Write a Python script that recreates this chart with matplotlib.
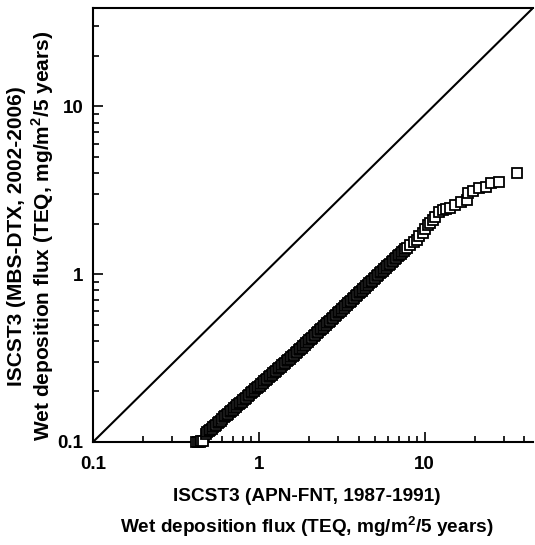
import numpy as np
import matplotlib.pyplot as plt
from matplotlib.ticker import FixedLocator, FixedFormatter, LogLocator, NullFormatter

plt.rcParams['font.family'] = 'Liberation Sans'
plt.rcParams['font.weight'] = 'bold'
plt.rcParams['mathtext.fontset'] = 'custom'
plt.rcParams['mathtext.rm'] = 'Liberation Sans:bold'
plt.rcParams['mathtext.bf'] = 'Liberation Sans:bold'

# APN-FNT 1987-1991 (x) vs MBS-DTX 2002-2006 (y)
# centre of the band
x_flux = [0.42, 0.43, 0.44, 0.45, 0.46,
          0.479, 0.500, 0.521, 0.543, 0.566, 0.590, 0.615, 0.641, 0.668, 0.697,
          0.726, 0.757, 0.789, 0.823, 0.858, 0.894, 0.932, 0.972, 1.013, 1.056,
          1.101, 1.148, 1.197, 1.248, 1.301, 1.356, 1.414, 1.474, 1.536, 1.602,
          1.670, 1.741, 1.815, 1.892, 1.972, 2.056, 2.143, 2.234, 2.329, 2.428,
          2.531, 2.639, 2.751, 2.868, 2.990, 3.117, 3.249, 3.387, 3.531, 3.681,
          3.838, 4.001, 4.171, 4.348, 4.533, 4.725, 4.926, 5.136, 5.354, 5.581,
          5.818, 6.066, 6.324, 6.592, 6.872, 7.164, 7.469, 7.786,
          8.2, 8.6, 8.95, 9.3, 9.73, 10.0, 10.43, 10.8, 11.17, 11.6, 12.14, 12.83,
          13.5, 14.15, 15.16, 16.47, 17.9, 18.3, 19.7, 21.4, 23.6, 25.0, 27.9, 36.0]
y_flux = [0.100, 0.100, 0.100, 0.101, 0.102,
          0.112, 0.116, 0.120, 0.125, 0.130, 0.134, 0.140, 0.145, 0.150, 0.156,
          0.162, 0.168, 0.174, 0.181, 0.188, 0.195, 0.202, 0.210, 0.217, 0.226,
          0.234, 0.243, 0.252, 0.261, 0.271, 0.281, 0.292, 0.303, 0.314, 0.326,
          0.338, 0.351, 0.365, 0.380, 0.395, 0.411, 0.427, 0.444, 0.462, 0.480,
          0.499, 0.519, 0.540, 0.561, 0.584, 0.607, 0.631, 0.656, 0.682, 0.710,
          0.738, 0.767, 0.798, 0.830, 0.863, 0.897, 0.933, 0.970, 1.009, 1.049,
          1.091, 1.134, 1.179, 1.226, 1.275, 1.326, 1.379, 1.434,
          1.50, 1.55, 1.60, 1.68, 1.76, 1.85, 1.97, 2.03, 2.11, 2.20, 2.35, 2.42,
          2.45, 2.49, 2.59, 2.70, 2.77, 3.06, 3.14, 3.27, 3.30, 3.51, 3.56, 4.03]

# more points read in the dense part of the band
x_dense = [0.489, 0.510, 0.532, 0.554, 0.578, 0.602, 0.628, 0.654, 0.682, 0.711,
           0.741, 0.773, 0.806, 0.840, 0.876, 0.913, 0.952, 0.992, 1.034, 1.078,
           1.124, 1.172, 1.222, 1.274, 1.328, 1.385, 1.444, 1.505, 1.569, 1.636,
           1.705, 1.778, 1.853, 1.932, 2.014, 2.099, 2.188, 2.281, 2.378, 2.479,
           2.585, 2.695, 2.809, 2.929, 3.053, 3.183, 3.318, 3.459, 3.606, 3.759,
           3.919, 4.086, 4.259, 4.440, 4.629, 4.825, 5.030, 5.244, 5.467, 5.699,
           5.941, 6.194, 6.457, 6.731, 7.017, 7.316, 7.627]
y_dense = [0.114, 0.118, 0.122, 0.127, 0.132, 0.137, 0.142, 0.147, 0.153, 0.159,
           0.165, 0.171, 0.177, 0.184, 0.191, 0.198, 0.206, 0.213, 0.221, 0.230,
           0.238, 0.247, 0.256, 0.266, 0.276, 0.286, 0.297, 0.308, 0.320, 0.332,
           0.344, 0.358, 0.372, 0.387, 0.403, 0.419, 0.435, 0.453, 0.471, 0.489,
           0.509, 0.529, 0.550, 0.572, 0.595, 0.619, 0.644, 0.669, 0.696, 0.724,
           0.752, 0.782, 0.814, 0.846, 0.880, 0.915, 0.951, 0.989, 1.029, 1.070,
           1.112, 1.157, 1.203, 1.250, 1.300, 1.352, 1.406]

ticks = [0.1, 1, 10]
tick_labels = ["0.1", "1", "10"]

x_all = np.array(x_flux + x_dense)
y_all = np.array(y_flux + y_dense)
order = np.argsort(x_all)

fig = plt.figure(figsize=(5.35, 5.45), dpi=100)
ax = fig.add_axes([0.1738, 0.189, 0.8224, 0.7963])

ax.set_xscale('log')
ax.set_yscale('log')
ax.set_xlim(0.1, 45)
ax.set_ylim(0.1, 38.5)

# 1:1 line, corner to corner
ax.plot([0, 1], [0, 1], transform=ax.transAxes, color='black', lw=1.5)

ax.plot(x_all[order], y_all[order], 's', ms=6.5, mfc='white', mec='black',
        mew=1.3, clip_on=False, zorder=3)

for axis in (ax.xaxis, ax.yaxis):
    axis.set_major_locator(FixedLocator(ticks))
    axis.set_major_formatter(FixedFormatter(tick_labels))
    axis.set_minor_locator(LogLocator(base=10, subs=np.arange(2, 10)))
    axis.set_minor_formatter(NullFormatter())

ax.tick_params(which='both', direction='in', top=False, right=False,
               labelsize=13.5, width=1.2)
ax.tick_params(which='major', length=7)
ax.tick_params(which='minor', length=4)
ax.tick_params(axis='x', which='major', pad=10)
ax.tick_params(axis='y', which='major', pad=7)

ax.spines['right'].set_visible(False)
for s in ('left', 'bottom', 'top'):
    ax.spines[s].set_linewidth(1.5)

ax.set_xlabel("ISCST3 (APN-FNT, 1987-1991)\n"
              "Wet deposition flux (TEQ, mg/m$^{2}$/5 years)",
              fontsize=13.7, fontweight='bold', linespacing=1.5)
ax.xaxis.set_label_coords(0.486, -0.105)
ax.set_ylabel("ISCST3 (MBS-DTX, 2002-2006)\n"
              "Wet deposition flux (TEQ, mg/m$^{2}$/5 years)",
              fontsize=15, fontweight='bold', linespacing=1.2)
ax.yaxis.set_label_coords(-0.083, 0.475)

plt.savefig("out.png", dpi=100)
